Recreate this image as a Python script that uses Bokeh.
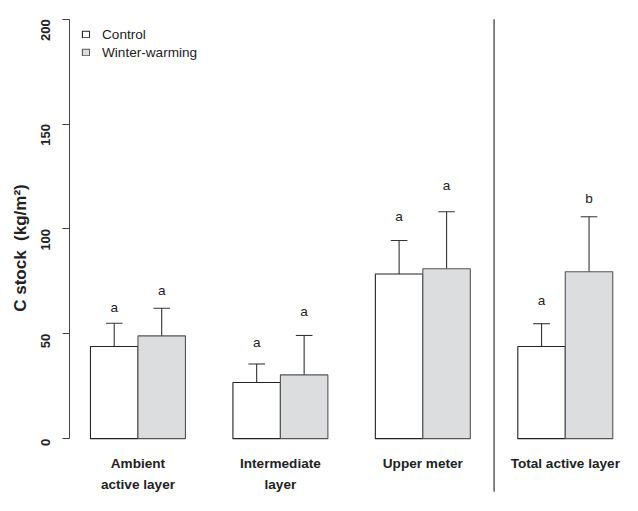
import math
from bokeh.plotting import figure
from bokeh.models import FixedTicker, Legend, LegendItem, ColumnDataSource
from bokeh.core.properties import value
from bokeh.embed import file_html
from bokeh.resources import INLINE

# ---- data ----
groups_line1 = ["Ambient", "Intermediate", "Upper meter", "Total active layer"]
groups_line2 = ["active layer", "layer", "", ""]
control_mean = [43.9, 26.8, 78.5, 43.9]
control_se = [11.1, 8.8, 16.0, 10.9]
warming_mean = [49.0, 30.4, 81.0, 79.6]
warming_se = [13.2, 18.8, 27.2, 26.2]
control_letters = ["a", "a", "a", "a"]
warming_letters = ["a", "a", "a", "b"]
control_letter_y = [62.7, 45.7, 105.7, 65.9]
warming_letter_y = [70.7, 60.8, 120.7, 114.7]
y_ticks = [0, 50, 100, 150, 200]

FONT = "Liberation Sans"
FS = "13.6px"
n = len(groups_line1)
xc = [1.5 + 3 * i for i in range(n)]
xw = [2.5 + 3 * i for i in range(n)]
xm = [2.0 + 3 * i for i in range(n)]

p = figure(width=622, height=495, output_backend="svg", toolbar_location=None,
           x_range=(0.5581, 12.205), y_range=(-27.11, 208.91),
           x_axis_location=None, min_border=0, min_border_left=69)
p.outline_line_color = None
p.grid.visible = False

src_c = ColumnDataSource(dict(x=xc, top=control_mean, err=[m + s for m, s in zip(control_mean, control_se)],
                              lab=control_letters, ly=control_letter_y))
src_w = ColumnDataSource(dict(x=xw, top=warming_mean, err=[m + s for m, s in zip(warming_mean, warming_se)],
                              lab=warming_letters, ly=warming_letter_y))

cap = 0.175
for src in (src_c, src_w):
    p.segment(x0="x", y0="top", x1="x", y1="err", source=src, line_color="#333333", line_width=1.1)
    d = src.data
    p.segment(x0=[x - cap for x in d["x"]], y0=d["err"], x1=[x + cap for x in d["x"]], y1=d["err"],
              line_color="#333333", line_width=1.1)

rc = p.vbar(x="x", top="top", bottom=0, width=1.0, source=src_c, fill_color="white",
            line_color="#222222", line_width=1.1)
rw = p.vbar(x="x", top="top", bottom=0, width=1.0, source=src_w, fill_color="#dcdddf",
            line_color="#555555", line_width=1.1)

for src in (src_c, src_w):
    p.text(x="x", y="ly", text="lab", source=src, text_align="center", text_baseline="alphabetic",
           text_font=value(FONT), text_font_size=FS, text_color="#222222")

# group labels (two lines)
p.text(x=xm, y=[-11.9] * n, text=groups_line1, text_align="center", text_baseline="middle",
       text_font=value(FONT), text_font_size=FS, text_font_style="bold", text_color="#222222")
p.text(x=xm, y=[-22.0] * n, text=groups_line2, text_align="center", text_baseline="middle",
       text_font=value(FONT), text_font_size=FS, text_font_style="bold", text_color="#222222")

# separator between the layers and the total
sep_x = (xw[2] + xc[3]) / 2
sep_bottom = -25.3
p.segment(x0=[sep_x], y0=[y_ticks[-1]], x1=[sep_x], y1=[sep_bottom], line_color="#222222", line_width=1.1)

ax = p.yaxis[0]
ax.ticker = FixedTicker(ticks=y_ticks)
ax.bounds = (y_ticks[0], y_ticks[-1])
ax.minor_tick_line_color = None
ax.major_tick_in = 0
ax.major_tick_out = 7
ax.axis_line_color = "#444444"
ax.major_tick_line_color = "#444444"
ax.major_label_orientation = math.pi / 2
ax.major_label_standoff = 17
ax.major_label_text_font = FONT
ax.major_label_text_font_size = "13px"
ax.major_label_text_font_style = "bold"
ax.major_label_text_color = "#222222"
ax.axis_label = "C stock\u00a0\u00a0(kg/m²)"
ax.axis_label_text_font = FONT
ax.axis_label_text_font_size = "17px"
ax.axis_label_text_font_style = "bold"
ax.axis_label_text_color = "#222222"
ax.axis_label_standoff = 4

legend = Legend(items=[LegendItem(label="Control", renderers=[rc]),
                       LegendItem(label="Winter-warming", renderers=[rw])],
                location=(12, 434), glyph_width=9, glyph_height=8, label_standoff=12,
                label_text_font=FONT, label_text_font_size=FS, label_text_color="#222222",
                label_height=18, spacing=0, padding=0, margin=0,
                border_line_color=None, background_fill_alpha=0)
p.add_layout(legend)

open("out.html", "w").write(file_html(p, INLINE))
